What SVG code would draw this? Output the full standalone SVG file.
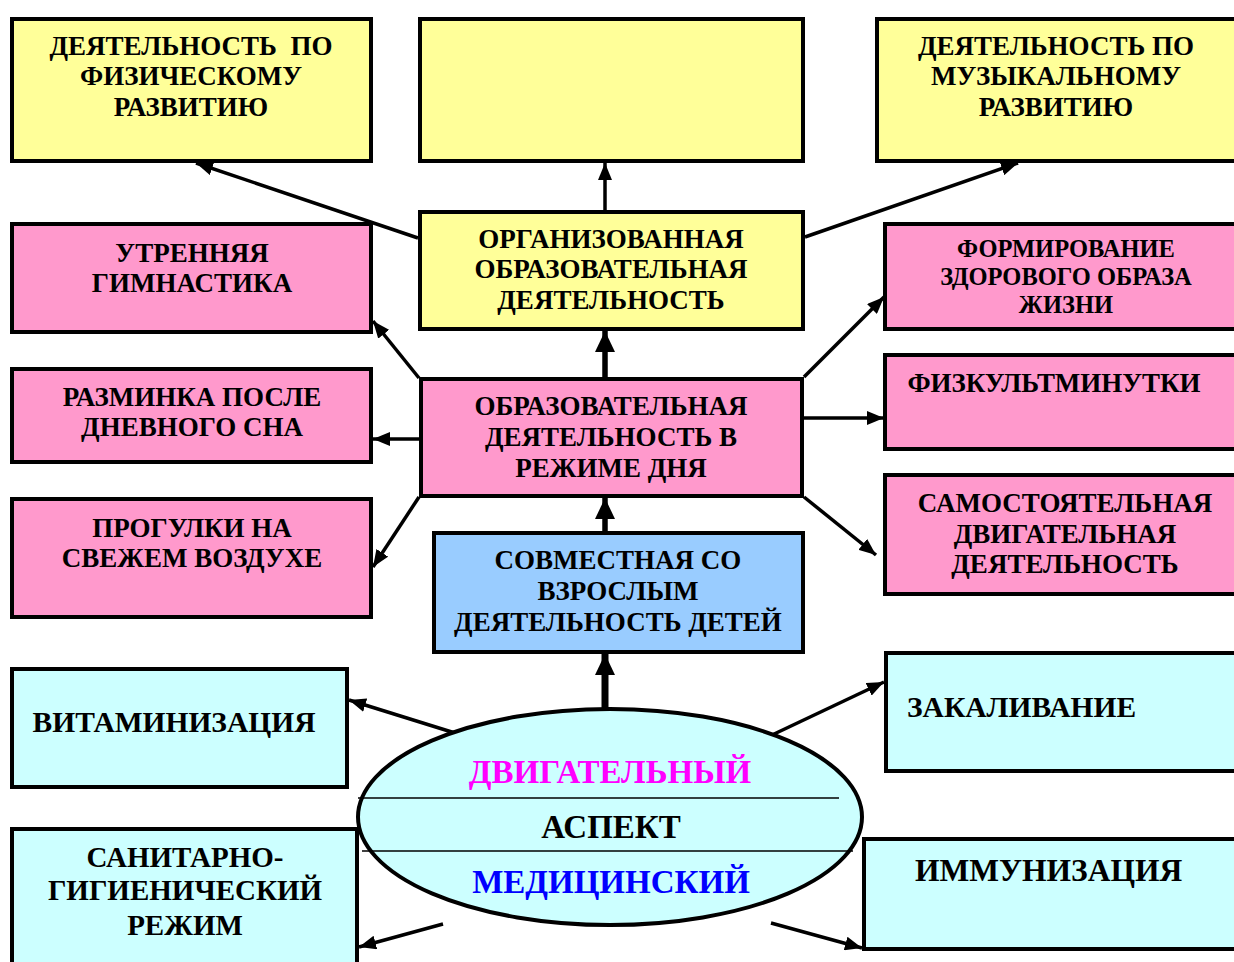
<svg xmlns="http://www.w3.org/2000/svg" width="1234" height="962" viewBox="0 0 1234 962">
<defs>
<style>
.box{stroke:#000;stroke-width:4}
.y{fill:#FFFF99}.p{fill:#FF99CC}.b{fill:#99CCFF}.c{fill:#CCFFFF}
text{font-family:"Liberation Serif","Times New Roman",serif;font-weight:bold;fill:#000}
.t{font-size:27px;text-anchor:middle}
.s{font-size:24.5px;text-anchor:middle}
.ln{stroke:#000;stroke-width:3.5;fill:none;marker-end:url(#ah)}
.th{stroke:#000;stroke-width:5.5;fill:none;marker-end:url(#ahb)}
.tt{stroke:#000;stroke-width:7;fill:none;marker-end:url(#ahb)}
</style>
<marker id="ah" markerUnits="userSpaceOnUse" markerWidth="18" markerHeight="14" refX="17" refY="7" orient="auto"><path d="M0,0 L17,7 L0,14 z" fill="#000"/></marker>
<marker id="ahb" markerUnits="userSpaceOnUse" markerWidth="22" markerHeight="20" refX="21" refY="10" orient="auto"><path d="M0,0 L21,10 L0,20 z" fill="#000"/></marker>
</defs>
<rect width="1234" height="962" fill="#fff"/>
<g id="connectors">
<line class="ln" x1="418" y1="238" x2="196" y2="163"/>
<line class="ln" x1="605" y1="210" x2="605" y2="163"/>
<line class="ln" x1="805" y1="237" x2="1018" y2="163"/>
<line class="th" x1="605" y1="377" x2="605" y2="331"/>
<line class="ln" x1="419" y1="378" x2="373" y2="321"/>
<line class="ln" x1="419" y1="439" x2="373" y2="439"/>
<line class="ln" x1="419" y1="497" x2="373" y2="567"/>
<line class="ln" x1="804" y1="377" x2="884" y2="297"/>
<line class="ln" x1="804" y1="418" x2="884" y2="418"/>
<line class="ln" x1="804" y1="497" x2="876" y2="555"/>
<line class="th" x1="605" y1="531" x2="605" y2="498"/>
<line class="tt" x1="605" y1="709" x2="605" y2="654"/>
<line class="ln" x1="455" y1="733" x2="349" y2="700"/>
<line class="ln" x1="772" y1="735" x2="884" y2="682"/>
<line class="ln" x1="443" y1="924" x2="359" y2="947"/>
<line class="ln" x1="771" y1="923" x2="862" y2="948"/>
</g>
<g id="n-fiz"><rect class="box y" x="12" y="19" width="359" height="142"/>
<text class="t"><tspan x="191" y="55">ДЕЯТЕЛЬНОСТЬ&#160; ПО</tspan><tspan x="191" y="85">ФИЗИЧЕСКОМУ</tspan><tspan x="191" y="116">РАЗВИТИЮ</tspan></text></g>
<g id="n-empty"><rect class="box y" x="420" y="19" width="383" height="142"/></g>
<g id="n-muz"><rect class="box y" x="877" y="19" width="400" height="142"/>
<text class="t"><tspan x="1056" y="55">ДЕЯТЕЛЬНОСТЬ ПО</tspan><tspan x="1056" y="85">МУЗЫКАЛЬНОМУ</tspan><tspan x="1056" y="116">РАЗВИТИЮ</tspan></text></g>
<g id="n-org"><rect class="box y" x="420" y="212" width="383" height="117"/>
<text class="t"><tspan x="611" y="248">ОРГАНИЗОВАННАЯ</tspan><tspan x="611" y="278">ОБРАЗОВАТЕЛЬНАЯ</tspan><tspan x="611" y="309">ДЕЯТЕЛЬНОСТЬ</tspan></text></g>
<g id="n-obr"><rect class="box p" x="421" y="379" width="381" height="117"/>
<text class="t"><tspan x="611" y="415">ОБРАЗОВАТЕЛЬНАЯ</tspan><tspan x="611" y="446">ДЕЯТЕЛЬНОСТЬ В</tspan><tspan x="611" y="477">РЕЖИМЕ ДНЯ</tspan></text></g>
<g id="n-utr"><rect class="box p" x="12" y="224" width="359" height="108"/>
<text class="t"><tspan x="192" y="262">УТРЕННЯЯ</tspan><tspan x="192" y="292">ГИМНАСТИКА</tspan></text></g>
<g id="n-razm"><rect class="box p" x="12" y="369" width="359" height="93"/>
<text class="t"><tspan x="192" y="406">РАЗМИНКА ПОСЛЕ</tspan><tspan x="192" y="436">ДНЕВНОГО СНА</tspan></text></g>
<g id="n-prog"><rect class="box p" x="12" y="499" width="359" height="118"/>
<text class="t"><tspan x="192" y="537">ПРОГУЛКИ НА</tspan><tspan x="192" y="567">СВЕЖЕМ ВОЗДУХЕ</tspan></text></g>
<g id="n-zoj"><rect class="box p" x="885" y="224" width="400" height="105"/>
<text class="s"><tspan x="1066" y="257">ФОРМИРОВАНИЕ</tspan><tspan x="1066" y="285">ЗДОРОВОГО ОБРАЗА</tspan><tspan x="1066" y="313">ЖИЗНИ</tspan></text></g>
<g id="n-fizk"><rect class="box p" x="885" y="355" width="400" height="94"/>
<text class="t" x="1054" y="392">ФИЗКУЛЬТМИНУТКИ</text></g>
<g id="n-sam"><rect class="box p" x="885" y="475" width="400" height="119"/>
<text class="t"><tspan x="1065" y="512">САМОСТОЯТЕЛЬНАЯ</tspan><tspan x="1065" y="543">ДВИГАТЕЛЬНАЯ</tspan><tspan x="1065" y="573">ДЕЯТЕЛЬНОСТЬ</tspan></text></g>
<g id="n-sovm"><rect class="box b" x="434" y="533" width="369" height="119"/>
<text class="t"><tspan x="618" y="569">СОВМЕСТНАЯ СО</tspan><tspan x="618" y="600">ВЗРОСЛЫМ</tspan><tspan x="618" y="631">ДЕЯТЕЛЬНОСТЬ ДЕТЕЙ</tspan></text></g>
<g id="n-vit"><rect class="box c" x="12" y="669" width="335" height="118"/>
<text class="t" x="174" y="732" style="font-size:29.5px">ВИТАМИНИЗАЦИЯ</text></g>
<g id="n-san"><rect class="box c" x="12" y="829" width="345" height="200"/>
<text class="t" style="font-size:29px"><tspan x="185" y="867">САНИТАРНО-</tspan><tspan x="185" y="900">ГИГИЕНИЧЕСКИЙ</tspan><tspan x="185" y="935">РЕЖИМ</tspan></text></g>
<g id="n-zak"><rect class="box c" x="886" y="653" width="400" height="118"/>
<text x="907" y="717" style="font-size:29.5px">ЗАКАЛИВАНИЕ</text></g>
<g id="n-imm"><rect class="box c" x="864" y="839" width="400" height="110"/>
<text x="915" y="881" style="font-size:31.5px">ИММУНИЗАЦИЯ</text></g>
<g id="n-aspect">
<ellipse class="c" cx="610" cy="817" rx="252" ry="108" stroke="#000" stroke-width="4"/>
<line x1="358" y1="798" x2="839" y2="798" stroke="#000" stroke-width="1.5"/>
<line x1="362" y1="851" x2="853" y2="851" stroke="#000" stroke-width="1.5"/>
<text x="610" y="783" style="font-size:33px;text-anchor:middle;fill:#FF00FF">ДВИГАТЕЛЬНЫЙ</text>
<text x="611" y="838" style="font-size:33px;text-anchor:middle">АСПЕКТ</text>
<text x="611" y="893" style="font-size:33px;text-anchor:middle;fill:#0000FF">МЕДИЦИНСКИЙ</text>
</g>
</svg>
